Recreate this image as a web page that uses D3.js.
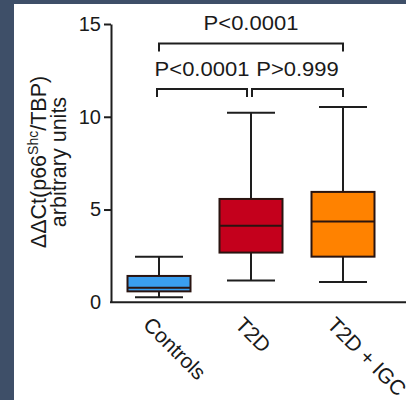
<!DOCTYPE html>
<html>
<head>
<meta charset="utf-8">
<script src="https://cdn.jsdelivr.net/npm/d3@7"></script>
<style>
  html, body { margin: 0; padding: 0; background: #ffffff; overflow: hidden; }
  svg { display: block; }
  text { font-family: "Liberation Sans", Arial, Helvetica, sans-serif; fill: #1a1a1a; }
</style>
</head>
<body>
<svg id="chart" width="406" height="400"></svg>
<script>
// Groups and their box-plot summaries (min, Q1, median, Q3, max)
const groups  = ["Controls", "T2D", "T2D + IGC"];
const mins    = [0.27, 1.17, 1.10];
const q1s     = [0.59, 2.68, 2.46];
const medians = [0.79, 4.13, 4.36];
const q3s     = [1.42, 5.57, 5.95];
const maxs    = [2.46, 10.22, 10.52];
const fills   = ["#3a9ff0", "#c4001c", "#ff8200"];

const yTicks  = [0, 5, 10, 15];

// Significance brackets: from group, to group, bracket height, label
const bracketFrom   = ["Controls", "Controls", "T2D"];
const bracketTo     = ["T2D + IGC", "T2D", "T2D + IGC"];
const bracketLevel  = [13.95, 11.5, 11.5];
const bracketLabels = ["P<0.0001", "P<0.0001", "P>0.999"];

const svg = d3.select("#chart");

// dark frame along the left and top edges
svg.append("rect").attr("x", 0).attr("y", 0).attr("width", 406).attr("height", 4).attr("fill", "#3e4f68");
svg.append("rect").attr("x", 0).attr("y", 0).attr("width", 14).attr("height", 400).attr("fill", "#3e4f68");

const y = d3.scaleLinear().domain([0, 15]).range([302.3, 24]);
const x = d3.scaleBand().domain(groups).range([113, 389]).padding(0);
const cx = g => x(g) + x.bandwidth() / 2;

const boxW = 63, capW = 48;
const ink = "#1e1e1e";

// y axis
const yAxis = svg.append("g")
  .attr("transform", "translate(111,0)")
  .call(d3.axisLeft(y).tickValues(yTicks).tickSize(7).tickPadding(3).tickSizeOuter(0));
yAxis.select(".domain").attr("stroke", ink).attr("stroke-width", 2);
yAxis.selectAll(".tick line").attr("stroke", ink).attr("stroke-width", 2);
yAxis.selectAll(".tick line").filter(d => d === 0).remove();
yAxis.selectAll(".tick text")
  .attr("font-size", 20).attr("fill", "#1a1a1a")
  .style("font-family", '"Liberation Sans", Arial, sans-serif');

// x axis baseline
svg.append("line")
  .attr("x1", 110).attr("x2", 406)
  .attr("y1", y(0)).attr("y2", y(0))
  .attr("stroke", ink).attr("stroke-width", 2);

// x category labels, rotated
svg.append("g").selectAll("text").data(groups).join("text")
  .attr("transform", g => `translate(${cx(g) - 17},326) rotate(45)`)
  .attr("font-size", 21)
  .attr("text-anchor", "start")
  .text(g => g);

// boxes
const boxes = svg.append("g").selectAll("g").data(groups).join("g");
boxes.each(function(g, i) {
  const s = d3.select(this);
  const c = cx(g);
  // whisker stems
  s.append("line").attr("x1", c).attr("x2", c).attr("y1", y(maxs[i])).attr("y2", y(q3s[i]))
    .attr("stroke", ink).attr("stroke-width", 2);
  s.append("line").attr("x1", c).attr("x2", c).attr("y1", y(q1s[i])).attr("y2", y(mins[i]))
    .attr("stroke", ink).attr("stroke-width", 2);
  // caps
  [maxs[i], mins[i]].forEach(v => {
    s.append("line").attr("x1", c - capW / 2).attr("x2", c + capW / 2)
      .attr("y1", y(v)).attr("y2", y(v))
      .attr("stroke", ink).attr("stroke-width", 2);
  });
  // box
  s.append("rect")
    .attr("x", c - boxW / 2).attr("width", boxW)
    .attr("y", y(q3s[i])).attr("height", y(q1s[i]) - y(q3s[i]))
    .attr("fill", fills[i]).attr("stroke", "#2a1410").attr("stroke-width", 2);
  // median
  s.append("line").attr("x1", c - boxW / 2).attr("x2", c + boxW / 2)
    .attr("y1", y(medians[i])).attr("y2", y(medians[i]))
    .attr("stroke", "#2a1410").attr("stroke-width", 2);
});

// significance brackets
const drop = 8;
bracketLabels.forEach((lab, i) => {
  let x1 = cx(bracketFrom[i]), x2 = cx(bracketTo[i]);
  if (bracketTo[i] === "T2D") { x1 -= 2; x2 -= 4; }
  if (bracketFrom[i] === "T2D") { x1 += 1; }
  const yy = y(bracketLevel[i]);
  svg.append("path")
    .attr("d", `M${x1},${yy + drop}V${yy}H${x2}V${yy + drop}`)
    .attr("fill", "none").attr("stroke", ink).attr("stroke-width", 2);
  const mid = (x1 + x2) / 2;
  svg.append("text")
    .attr("transform", `translate(${mid},${yy - 13}) scale(1.1,1)`)
    .attr("text-anchor", "middle")
    .attr("font-size", 20)
    .text(lab);
});

// y axis title
const title = svg.append("g").attr("transform", "translate(0,162) rotate(-90)");
const t1 = title.append("text").attr("x", 0).attr("y", 46).attr("text-anchor", "middle").attr("font-size", 21.5);
t1.append("tspan").text("ΔΔCt(p66");
t1.append("tspan").attr("font-size", 14).attr("dy", -8).text("Shc");
t1.append("tspan").attr("dy", 8).text("/TBP)");
title.append("text").attr("x", 0).attr("y", 66).attr("text-anchor", "middle").attr("font-size", 21.5)
  .text("arbitrary units");
</script>
</body>
</html>
